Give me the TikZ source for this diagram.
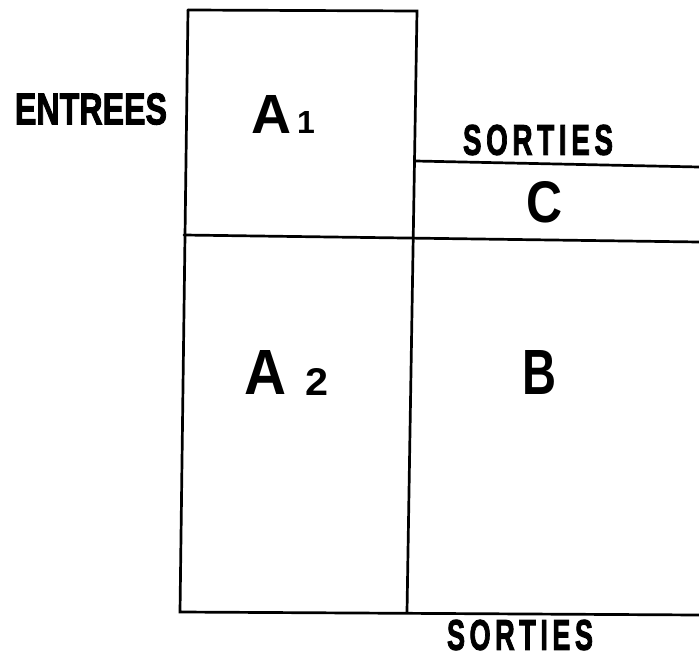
\documentclass[tikz,border=0pt]{standalone}
\usepackage{fontspec}
\setmainfont{Liberation Sans}
\newfontfamily\heavyfont[FakeBold=2.5]{Liberation Sans Bold}
\usepackage{graphicx}
\begin{document}
\begin{tikzpicture}[x=1pt,y=-1pt,
  rule/.style={line width=2.7pt,line cap=round,line join=miter},
  lab/.style={inner sep=0pt,anchor=center}]
\useasboundingbox (0,0) rectangle (699,661);
% frame coordinates
\coordinate (TL) at (188,10);
\coordinate (TR) at (417,11);
\coordinate (BL) at (180,612);
\coordinate (BR) at (407,612);
\coordinate (ML) at (184,235);
\coordinate (MR) at (699,242);
\coordinate (CL) at (415.5,161);
\coordinate (CR) at (699,167);
\coordinate (ER) at (699,615);
\draw[rule] (TL) -- (TR) -- (BR);
\draw[rule] (TL) -- (BL) -- (ER);
\draw[rule] (ML) -- (MR);
\draw[rule] (CL) -- (CR);
% labels
\node[lab] (entrees) at (91,109) {\resizebox{152pt}{31pt}{\heavyfont ENTREES}};
\node[lab] (sortiesC) at (538,140) {\resizebox{150pt}{30pt}{\heavyfont S\,O\,R\,T\,I\,E\,S}};
\node[lab] (sortiesB) at (520,635) {\resizebox{146pt}{30pt}{\heavyfont S\,O\,R\,T\,I\,E\,S}};
\node[lab] (a1) at (272,114) {\resizebox{40pt}{38pt}{\bfseries A}};
\node[inner sep=0pt,anchor=base west] (a1i) at (297,133) {\fontsize{32}{32}\selectfont\bfseries 1};
\node[lab] (a2) at (266,372.5) {\resizebox{42pt}{44pt}{\bfseries A}};
\node[lab] (a2i) at (316.5,381.5) {\resizebox{23pt}{27pt}{\bfseries 2}};
\node[lab] (b) at (540,372.5) {\resizebox{34pt}{44pt}{\bfseries B}};
\node[lab] (c) at (545,202.5) {\resizebox{36pt}{41pt}{\bfseries C}};
\end{tikzpicture}
\end{document}
